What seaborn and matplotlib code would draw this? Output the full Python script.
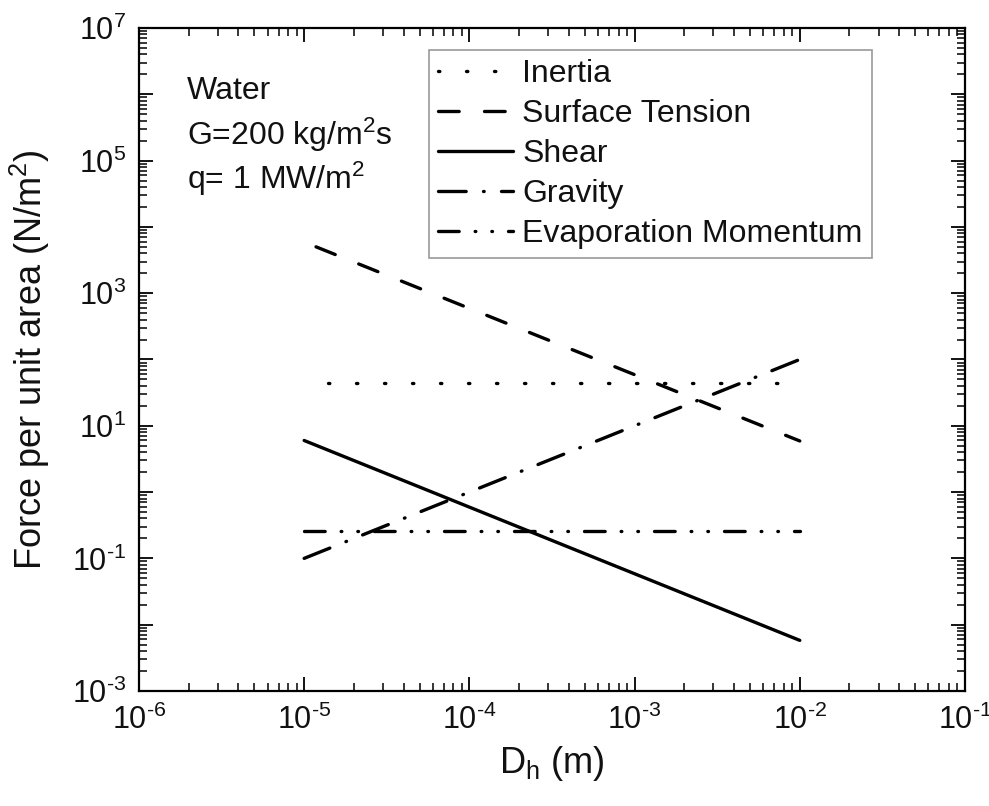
import numpy as np
import pandas as pd
import matplotlib
matplotlib.use("Agg")
import matplotlib.pyplot as plt
import matplotlib.ticker as mticker
import seaborn as sns

# ---- data ----
series_names = ["Inertia", "Surface Tension", "Shear", "Gravity", "Evaporation Momentum"]
inertia_x = [1.4e-5, 1e-2]
inertia_y = [44.0, 44.0]
surface_x = [1.18e-5, 1e-2]
surface_y = [5000.0, 5.9]
shear_x = [1e-5, 1e-2]
shear_y = [6.0, 0.0058]
gravity_x = [1e-5, 1e-2]
gravity_y = [0.1, 100.0]
evap_x = [1e-5, 1e-2]
evap_y = [0.26, 0.26]

annot_lines = ["Water", "G=200 kg/m$^2$s", "q= 1 MW/m$^2$"]
x_label = "D$_{\\mathregular{h}}$ (m)"
y_label = "Force per unit area (N/m$^2$)"

sns.set_theme(style="ticks")
plt.rcParams["font.family"] = ["Liberation Sans", "DejaVu Sans"]
plt.rcParams["mathtext.fontset"] = "custom"
plt.rcParams["mathtext.rm"] = "Liberation Sans"
plt.rcParams["mathtext.it"] = "Liberation Sans:italic"
plt.rcParams["mathtext.bf"] = "Liberation Sans:bold"
plt.rcParams["mathtext.default"] = "regular"
plt.rcParams["axes.unicode_minus"] = False

fig = plt.figure(figsize=(9.89, 8.06), dpi=100)
ax = fig.add_axes([0.1405, 0.1427, 0.8352, 0.8226])

lw = 2.4
styles = {
    "Inertia": (0, (0.4, 8.0)),
    "Surface Tension": (0, (6.2, 7.6)),
    "Shear": "-",
    "Gravity": (0, (8.3, 5.2, 0.2, 5.2)),
    "Evaporation Momentum": (0, (6.2, 4.8, 0.2, 4.8, 0.2, 4.8)),
}
data = [
    ("Inertia", inertia_x, inertia_y),
    ("Surface Tension", surface_x, surface_y),
    ("Shear", shear_x, shear_y),
    ("Gravity", gravity_x, gravity_y),
    ("Evaporation Momentum", evap_x, evap_y),
]
for name, xs, ys in data:
    df = pd.DataFrame({"x": xs, "y": ys})
    sns.lineplot(data=df, x="x", y="y", ax=ax, color="black", linewidth=lw,
                 linestyle=styles[name], dash_capstyle="round",
                 solid_capstyle="round", label=name)

ax.set_xscale("log")
ax.set_yscale("log")
ax.set_xlim(1e-6, 1e-1)
ax.set_ylim(1e-3, 1e7)

ax.xaxis.set_major_locator(mticker.LogLocator(base=10, numticks=20))
ax.xaxis.set_minor_locator(mticker.LogLocator(base=10, subs=np.arange(2, 10), numticks=20))
ax.yaxis.set_major_locator(mticker.LogLocator(base=10, numticks=20))
ax.yaxis.set_minor_locator(mticker.LogLocator(base=10, subs=np.arange(2, 10), numticks=20))


def exp_label(e):
    if e < 0:
        return f"$10^{{\\text{{-}}{-e}}}$"
    return f"$10^{{{e}}}$"


def xfmt(v, pos):
    return exp_label(int(round(np.log10(v))))


def yfmt(v, pos):
    e = int(round(np.log10(v)))
    if e % 2 == 0:
        return ""
    return exp_label(e)


ax.xaxis.set_major_formatter(mticker.FuncFormatter(xfmt))
ax.yaxis.set_major_formatter(mticker.FuncFormatter(yfmt))
ax.xaxis.set_minor_formatter(mticker.NullFormatter())
ax.yaxis.set_minor_formatter(mticker.NullFormatter())

ax.tick_params(which="both", direction="in", top=True, right=True, color="black",
               labelsize=22, labelcolor="#111111")
ax.tick_params(which="major", length=10, width=1.3)
ax.tick_params(which="minor", length=5.5, width=1.1)
ax.tick_params(axis="x", which="major", pad=10)
ax.tick_params(axis="y", which="major", pad=9)
for sp in ax.spines.values():
    sp.set_visible(True)
    sp.set_linewidth(1.6)
    sp.set_color("black")

ax.set_xlabel(x_label, fontsize=26, color="#111111")
ax.set_ylabel(y_label, fontsize=26, color="#111111")
ax.xaxis.set_label_coords(0.5, -0.08)
ax.yaxis.set_label_coords(-0.105, 0.5)

for i, t in enumerate(annot_lines):
    ax.text(0.058, 0.905 - i * 0.066, t, transform=ax.transAxes, fontsize=23,
            va="center", ha="left", color="#111111")

leg = ax.legend(loc="upper right", bbox_to_anchor=(0.887, 0.967), fontsize=23,
                frameon=True, fancybox=False, edgecolor="#808080",
                handlelength=2.35, handletextpad=0.3, borderpad=0.28,
                labelspacing=0.315, borderaxespad=0)
leg.get_frame().set_linewidth(1.2)
for t in leg.get_texts():
    t.set_color("#111111")

fig.savefig("out.png", dpi=100)
